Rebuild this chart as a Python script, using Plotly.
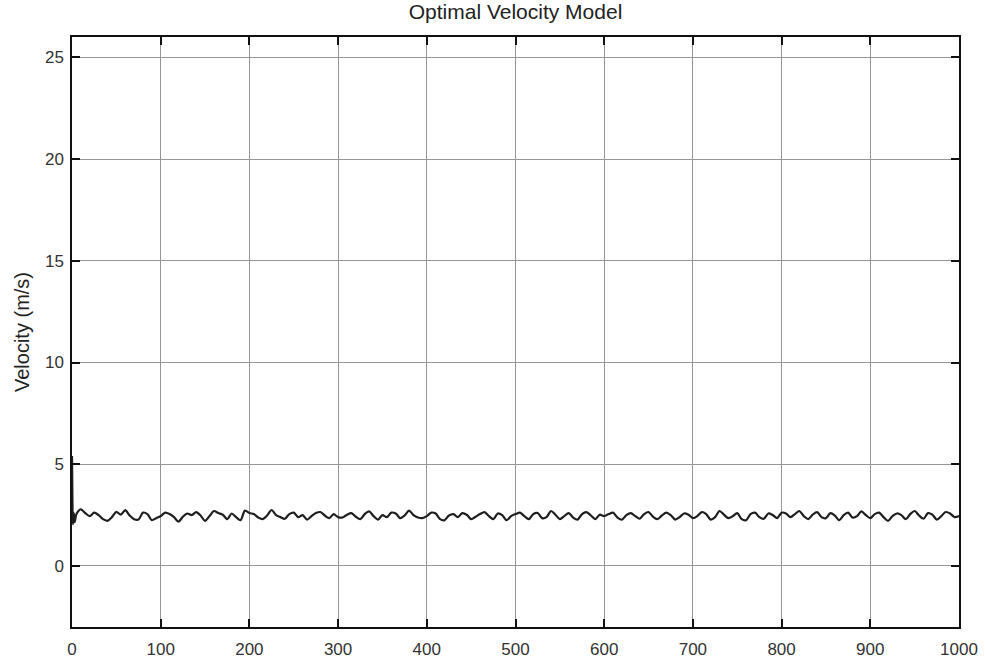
import plotly.graph_objects as go

# time (s) and velocity (m/s)
t_start = [0, 0.5, 1, 2, 3]
v_start = [5.4, 3.2, 2.05, 2.6, 2.15]

t_main = list(range(5, 1001, 5))
v_main = [
    2.55, 2.78, 2.60, 2.45, 2.62, 2.50, 2.30, 2.22, 2.40, 2.66, 2.52, 2.74, 2.48, 2.30, 2.28, 2.62, 2.55, 2.25, 2.35, 2.45,
    2.62, 2.55, 2.40, 2.18, 2.42, 2.58, 2.50, 2.65, 2.48, 2.22, 2.45, 2.70, 2.60, 2.52, 2.30, 2.58, 2.40, 2.25, 2.72, 2.60,
    2.55, 2.38, 2.30, 2.48, 2.75, 2.50, 2.40, 2.32, 2.55, 2.62, 2.40, 2.50, 2.28, 2.45, 2.60, 2.65, 2.48, 2.35, 2.55, 2.40,
    2.38, 2.52, 2.60, 2.42, 2.30, 2.55, 2.68, 2.45, 2.28, 2.50, 2.40, 2.62, 2.58, 2.35, 2.48, 2.72, 2.50, 2.38, 2.35, 2.45,
    2.62, 2.58, 2.30, 2.25, 2.48, 2.55, 2.40, 2.60, 2.52, 2.30, 2.42, 2.55, 2.65, 2.45, 2.30, 2.58, 2.50, 2.25, 2.45, 2.55,
    2.62, 2.45, 2.30, 2.55, 2.60, 2.35, 2.40, 2.70, 2.52, 2.30, 2.45, 2.60, 2.38, 2.28, 2.55, 2.65, 2.48, 2.30, 2.52, 2.45,
    2.55, 2.62, 2.38, 2.28, 2.50, 2.60, 2.45, 2.32, 2.55, 2.65, 2.42, 2.30, 2.48, 2.62, 2.50, 2.28, 2.40, 2.58, 2.52, 2.35,
    2.45, 2.65, 2.55, 2.28, 2.40, 2.70, 2.52, 2.35, 2.45, 2.60, 2.30, 2.25, 2.55, 2.62, 2.40, 2.32, 2.58, 2.50, 2.35, 2.62,
    2.58, 2.40, 2.55, 2.70, 2.45, 2.30, 2.52, 2.65, 2.40, 2.35, 2.60, 2.48, 2.25, 2.50, 2.62, 2.38, 2.45, 2.68, 2.50, 2.35,
    2.55, 2.62, 2.40, 2.22, 2.45, 2.58, 2.50, 2.30, 2.55, 2.70, 2.48, 2.32, 2.60, 2.52, 2.28, 2.45, 2.65, 2.58, 2.40, 2.45,
]

t = t_start + t_main
v = v_start + v_main

x_ticks = list(range(0, 1001, 100))
y_ticks = [0, 5, 10, 15, 20, 25]

FONT = "Liberation Sans, Arial, sans-serif"

fig = go.Figure()
fig.add_trace(go.Scatter(
    x=t, y=v, mode="lines",
    line=dict(color="#1e1e1e", width=2.2, shape="spline", smoothing=0.8),
    showlegend=False, hoverinfo="skip",
))

axis_common = dict(
    showline=True, linecolor="#111", linewidth=1.5, mirror="ticks",
    ticks="inside", ticklen=8, tickcolor="#111", tickwidth=1.5,
    showgrid=True, gridcolor="#969696", gridwidth=1,
    zeroline=False, automargin=False,
    tickfont=dict(family=FONT, size=17, color="#333"),
)

fig.update_layout(
    width=985, height=662,
    margin=dict(l=72, r=26, t=37, b=35),
    paper_bgcolor="white", plot_bgcolor="white",
    title=dict(text="Optimal Velocity Model", x=0.5, xref="paper",
               y=0.982, yanchor="middle", yref="container",
               font=dict(family=FONT, size=21, color="#222")),
    xaxis=dict(range=[0, 1000], tickvals=x_ticks, ticklabelstandoff=6, **axis_common),
    yaxis=dict(range=[-3, 26], tickvals=y_ticks, ticklabelstandoff=3,
               title=dict(text="Velocity (m/s)", standoff=10,
                          font=dict(family=FONT, size=20, color="#222")),
               **axis_common),
)

fig.write_html("out.html")
